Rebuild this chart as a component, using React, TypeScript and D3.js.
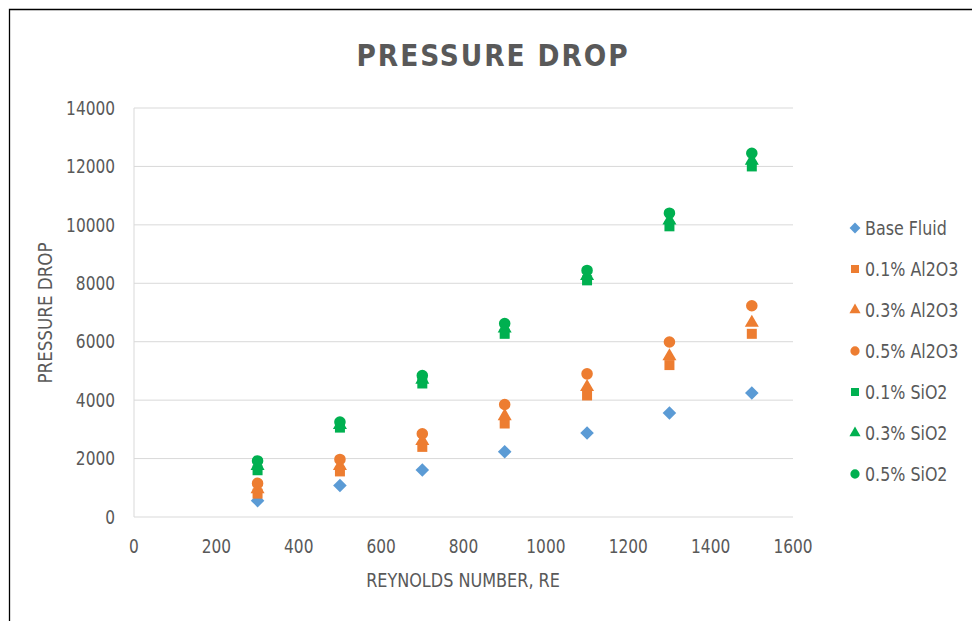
import React from "react";
import * as d3 from "d3";

const reynolds = [300, 500, 700, 900, 1100, 1300, 1500];
const baseFluid = [560, 1080, 1610, 2235, 2875, 3560, 4245];
const al01 = [800, 1560, 2400, 3200, 4160, 5200, 6270];
const al03 = [950, 1750, 2600, 3450, 4450, 5500, 6650];
const al05 = [1150, 1970, 2850, 3850, 4900, 5990, 7230];
const si01 = [1600, 3060, 4570, 6270, 8100, 9950, 12000];
const si03 = [1750, 3150, 4700, 6450, 8250, 10150, 12200];
const si05 = [1920, 3250, 4840, 6620, 8440, 10400, 12450];

const seriesNames = ["Base Fluid", "0.1% Al2O3", "0.3% Al2O3", "0.5% Al2O3", "0.1% SiO2", "0.3% SiO2", "0.5% SiO2"];
const seriesValues = [baseFluid, al01, al03, al05, si01, si03, si05];
const seriesColors = ["#5B9BD5", "#ED7D31", "#ED7D31", "#ED7D31", "#00B050", "#00B050", "#00B050"];
const seriesShapes = ["diamond", "square", "triangle", "circle", "square", "triangle", "circle"];

const xTicks = [0, 200, 400, 600, 800, 1000, 1200, 1400, 1600];
const yTicks = [0, 2000, 4000, 6000, 8000, 10000, 12000, 14000];

const FONT = "'Liberation Sans Narrow', 'DejaVu Sans Condensed', 'Arial Narrow', sans-serif";
const TXT = "#595959";

function symbolPath(shape: string): { d: string; rotate: number } {
  if (shape === "diamond") return { d: d3.symbol(d3.symbolSquare, 92)() as string, rotate: 45 };
  if (shape === "square") return { d: d3.symbol(d3.symbolSquare, 100)() as string, rotate: 0 };
  if (shape === "triangle") return { d: d3.symbol(d3.symbolTriangle, 85)() as string, rotate: 0 };
  return { d: d3.symbol(d3.symbolCircle, 105)() as string, rotate: 0 };
}

function T(props: { x: number; y: number; anchor?: string; sx?: number; size?: number; children: any; rotate?: number; weight?: string; ls?: number }) {
  const { x, y, anchor = "start", sx = 0.92, size = 19, children, rotate = 0, weight = "normal", ls = 0 } = props;
  return (
    <text
      transform={`translate(${x},${y}) rotate(${rotate}) scale(${sx},1)`}
      dy="0.35em"
      textAnchor={anchor}
      fontFamily={FONT}
      fontSize={size}
      fontWeight={weight}
      letterSpacing={ls}
      fill={TXT}
    >
      {children}
    </text>
  );
}

export default function App() {
  const W = 972, H = 621;
  const x = d3.scaleLinear().domain([0, 1600]).range([134, 793]);
  const y = d3.scaleLinear().domain([0, 14000]).range([517, 108]);
  const legendX = 855;
  const legendY0 = 228;
  const legendStep = 41;

  return (
    <svg width={W} height={H} style={{ position: "absolute", left: 0, top: 0, background: "#fff" }}>
      <rect x={0} y={0} width={W} height={H} fill="#fff" />
      <path d={`M9.5,${H} V9.5 H${W}`} fill="none" stroke="#000" strokeWidth={1.3} />
      <T x={493} y={55} anchor="middle" size={31} weight="bold" ls={2} sx={0.95}>PRESSURE DROP</T>
      {yTicks.map((t) => (
        <line key={"g" + t} x1={x(0)} x2={x(1600)} y1={y(t)} y2={y(t)} stroke="#D9D9D9" strokeWidth={1} />
      ))}
      <line x1={x(0)} x2={x(0)} y1={y(14000)} y2={y(0)} stroke="#D9D9D9" strokeWidth={1} />
      {yTicks.map((t) => (
        <T key={"yt" + t} x={115} y={y(t)} anchor="end" sx={0.9}>{t}</T>
      ))}
      {xTicks.map((t) => (
        <T key={"xt" + t} x={x(t)} y={546} anchor="middle" sx={0.9}>{t}</T>
      ))}
      <T x={463} y={580} anchor="middle" sx={0.94}>REYNOLDS NUMBER, RE</T>
      <T x={45} y={313} anchor="middle" rotate={-90} sx={0.98}>PRESSURE DROP</T>
      {seriesValues.map((vals, si) => {
        const sp = symbolPath(seriesShapes[si]);
        return (
          <g key={"s" + si}>
            {vals.map((v, i) => (
              <path key={i} d={sp.d} fill={seriesColors[si]} transform={`translate(${x(reynolds[i])},${y(v)}) rotate(${sp.rotate})`} />
            ))}
          </g>
        );
      })}
      {seriesNames.map((n, si) => {
        const sp = symbolPath(seriesShapes[si]);
        const ly = legendY0 + si * legendStep;
        return (
          <g key={"l" + si}>
            <path d={sp.d} fill={seriesColors[si]} transform={`translate(${legendX},${ly}) rotate(${sp.rotate}) scale(0.8)`} />
            <T x={legendX + 10} y={ly} sx={0.93}>{n}</T>
          </g>
        );
      })}
    </svg>
  );
}
